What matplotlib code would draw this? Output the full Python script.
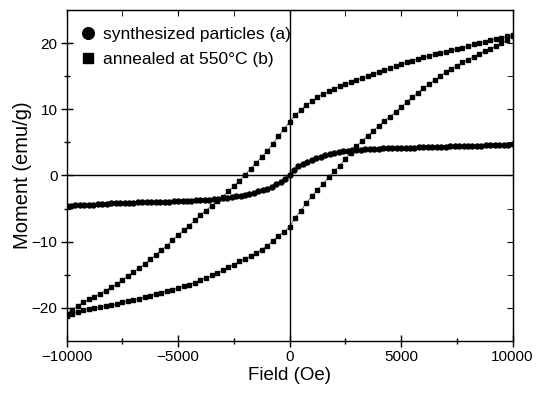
import numpy as np
import matplotlib
matplotlib.use("Agg")
import matplotlib.pyplot as plt
from matplotlib.lines import Line2D

plt.rcParams['font.family'] = ['Liberation Sans', 'DejaVu Sans']

# (a) synthesized particles, field step 200 Oe
field_a = np.arange(-10000, 10001, 200)
moment_a = [
    -4.60, -4.57, -4.54, -4.51, -4.48, -4.45, -4.40, -4.35, -4.30, -4.25,
    -4.20, -4.18, -4.16, -4.14, -4.12, -4.10, -4.08, -4.06, -4.04, -4.02,
    -4.00, -3.98, -3.96, -3.94, -3.92, -3.90, -3.87, -3.83, -3.79, -3.76,
    -3.72, -3.68, -3.64, -3.58, -3.52, -3.45, -3.36, -3.27, -3.16, -3.04,
    -2.90, -2.75, -2.60, -2.42, -2.22, -2.00, -1.70, -1.35, -0.95, -0.50,
    0.00,
    0.85, 1.40, 1.80, 2.10, 2.40, 2.65, 2.85, 3.05, 3.25, 3.40,
    3.52, 3.63, 3.72, 3.80, 3.87, 3.92, 3.96, 4.00, 4.03, 4.06,
    4.08, 4.10, 4.12, 4.14, 4.16, 4.18, 4.20, 4.22, 4.24, 4.26,
    4.28, 4.30, 4.32, 4.34, 4.36, 4.38, 4.40, 4.42, 4.44, 4.46,
    4.48, 4.50, 4.52, 4.54, 4.56, 4.58, 4.60, 4.62, 4.65, 4.70,
]

# (b) annealed at 550C, field step 250 Oe
field_b = np.arange(-10000, 10001, 250)
moment_b_upper = [
    -21.0, -20.3, -19.7, -19.2, -18.7, -18.3, -17.9, -17.4, -16.9, -16.4,
    -15.8, -15.2, -14.6, -14.0, -13.4, -12.7, -12.0, -11.3, -10.6, -9.8,
    -9.0, -8.3, -7.6, -6.8, -6.0, -5.3, -4.6, -3.9, -3.2, -2.4,
    -1.6, -0.8, 0.1, 1.0, 1.9, 2.8, 3.7, 4.8, 5.9, 7.0,
    8.1,
    9.1, 9.9, 10.6, 11.2, 11.8, 12.3, 12.7, 13.1, 13.5, 13.8,
    14.1, 14.4, 14.7, 15.0, 15.3, 15.6, 15.9, 16.2, 16.5, 16.8,
    17.1, 17.3, 17.6, 17.9, 18.1, 18.3, 18.5, 18.7, 18.9, 19.1,
    19.3, 19.5, 19.8, 20.0, 20.2, 20.4, 20.6, 20.8, 21.0, 21.3,
]
moment_b_lower = [
    -21.2, -20.9, -20.6, -20.4, -20.2, -20.0, -19.9, -19.8, -19.6, -19.4,
    -19.2, -19.0, -18.8, -18.6, -18.4, -18.2, -17.9, -17.7, -17.5, -17.3,
    -17.0, -16.7, -16.5, -16.2, -15.8, -15.5, -15.1, -14.7, -14.3, -13.9,
    -13.5, -13.0, -12.6, -12.2, -11.7, -11.2, -10.6, -9.9, -9.1, -8.5,
    -7.8,
    -6.4, -5.3, -4.2, -3.1, -2.2, -1.3, -0.3, 0.6, 1.5, 2.5,
    3.4, 4.4, 5.2, 6.0, 6.7, 7.5, 8.2, 8.9, 9.6, 10.3,
    11.1, 11.8, 12.5, 13.2, 13.8, 14.4, 15.0, 15.6, 16.1, 16.6,
    17.1, 17.5, 17.9, 18.4, 18.8, 19.1, 19.6, 20.0, 20.5, 21.1,
]

fig = plt.figure(figsize=(5.5, 4.01), dpi=100)
ax = fig.add_axes([0.121, 0.150, 0.811, 0.825])

ax.axhline(0, color='black', lw=1.0, zorder=1)
ax.axvline(0, color='black', lw=1.0, zorder=1)

ax.plot(field_b, moment_b_upper, color='black', lw=0.4, marker='s', ms=3.2,
        mec='black', mfc='black', zorder=3)
ax.plot(field_b, moment_b_lower, color='black', lw=0.4, marker='s', ms=3.2,
        mec='black', mfc='black', zorder=3)
ax.plot(field_a, moment_a, color='black', lw=1.0, marker='o', ms=3.6,
        mec='black', mfc='black', zorder=4)

ax.set_xlim(-10000, 10000)
ax.set_ylim(-25, 25)
ax.set_xticks([-10000, -5000, 0, 5000, 10000])
ax.set_xticks([-7500, -2500, 2500, 7500], minor=True)
ax.set_yticks([-20, -10, 0, 10, 20])
ax.set_yticks([-15, -5, 5, 15], minor=True)
ax.tick_params(which='major', direction='inout', length=9, width=1.0,
               labelsize=11, pad=2)
ax.tick_params(which='minor', direction='inout', length=5, width=1.0)
for s in ax.spines.values():
    s.set_linewidth(1.0)

top = ax.secondary_xaxis('top')
top.set_xticks([-10000, -5000, 0, 5000, 10000])
top.set_xticks([-7500, -2500, 2500, 7500], minor=True)
top.tick_params(which='both', direction='in', length=4, labeltop=False)
right = ax.secondary_yaxis('right')
right.set_yticks([-20, -10, 0, 10, 20])
right.set_yticks([-15, -5, 5, 15], minor=True)
right.tick_params(which='both', direction='in', length=4, labelright=False)

ax.set_xlabel('Field (Oe)', fontsize=13.5)
ax.set_ylabel('Moment (emu/g)', fontsize=14.5)
ax.xaxis.set_label_coords(0.5, -0.079)
ax.yaxis.set_label_coords(-0.078, 0.5)

handles = [
    Line2D([], [], ls='none', marker='o', ms=8.4, color='black'),
    Line2D([], [], ls='none', marker='s', ms=7.4, color='black'),
]
labels = ['synthesized particles (a)', 'annealed at 550°C (b)']
ax.legend(handles, labels, loc='upper left', bbox_to_anchor=(0.029, 0.948),
          frameon=False, fontsize=12.5, handletextpad=0.35, borderaxespad=0,
          labelspacing=0.55, handlelength=1.0, borderpad=0)

fig.savefig('out.png', dpi=100)
